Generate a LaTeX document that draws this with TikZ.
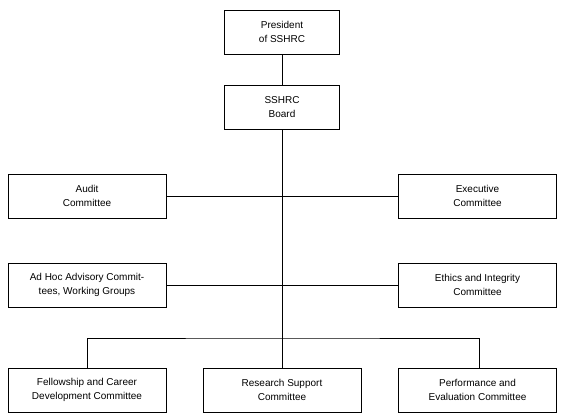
\documentclass[tikz,border=0pt]{standalone}
\usepackage{fontspec}
\setmainfont{Liberation Sans}
\begin{document}
\begin{tikzpicture}[x=1pt,y=-1pt,
  box/.style={draw,line width=0.8pt,minimum height=44pt,inner sep=0pt,align=center,font=\fontsize{10}{14}\selectfont},
  wbox/.style={box,minimum width=158pt},
  nbox/.style={box,minimum width=115pt},
  conn/.style={line width=0.8pt}]
\useasboundingbox (0,0) rectangle (562,419);
\node[nbox] (pres) at (282,32) {President\\of SSHRC};
\node[nbox] (board) at (282,107) {SSHRC\\Board};
\node[wbox] (audit) at (87,196) {Audit\\Committee};
\node[wbox] (exec) at (477.5,196) {Executive\\Committee};
\node[wbox] (adhoc) at (87,285) {Ad Hoc Advisory Commit-\\tees, Working Groups};
\node[wbox] (ethics) at (477.5,285) {Ethics and Integrity\\Committee};
\node[wbox] (fellow) at (87,390) {Fellowship and Career\\Development Committee};
\node[wbox] (research) at (282,390) {Research Support\\Committee};
\node[wbox] (perf) at (477.5,390) {Performance and\\Evaluation Committee};
\coordinate (bus) at (282,338);
\draw[conn] (pres) -- (board);
\draw[conn] (board.south) -- (research.north);
\draw[conn] (audit) -- (exec);
\draw[conn] (adhoc) -- (ethics);
\draw[conn] (fellow.north) |- (bus) -| ([xshift=2pt]perf.north);
\end{tikzpicture}
\end{document}
